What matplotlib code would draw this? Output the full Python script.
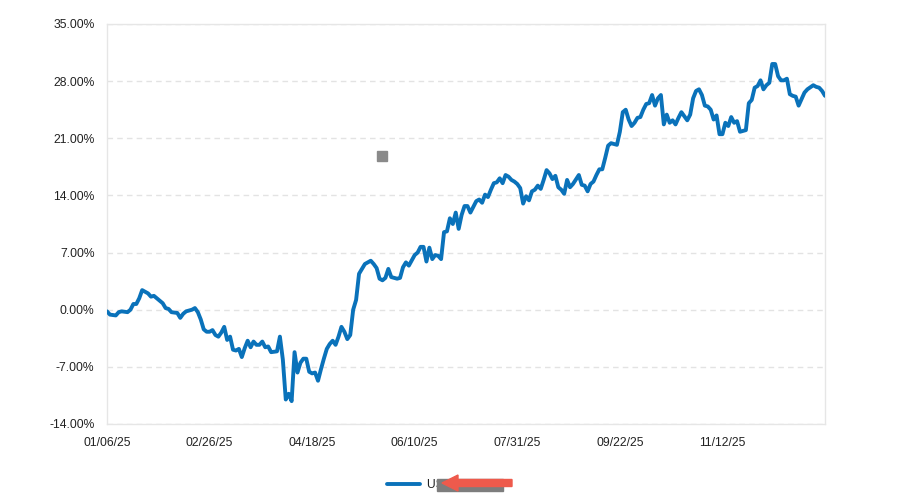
import matplotlib
matplotlib.use("Agg")
import matplotlib.pyplot as plt
from matplotlib.patches import Rectangle, FancyArrow

# ---- data (trading-day index, cumulative return %) ----
days = [0, 1, 3, 4, 5, 7, 8, 9, 10, 11, 12, 13, 14, 15, 16, 17, 19, 20, 21, 22,
        24, 25, 26, 27, 28, 29, 30, 31, 32, 33, 34, 35, 36, 37, 38, 39, 40, 41, 42, 43,
        44, 45, 46, 47, 48, 49, 50, 51, 52, 53, 54, 55, 56, 58, 59, 60, 61, 62, 63, 64,
        65, 66, 67, 68, 69, 70, 71, 72, 73, 74, 75, 76, 77, 78, 79, 80, 81, 82, 83, 84,
        85, 86, 87, 88, 89, 90, 91, 92, 93, 94, 95, 96, 97, 99, 100, 101, 102, 103, 105, 106,
        107, 108, 109, 110, 111, 112, 113, 114, 115, 116, 117, 118, 119, 120, 121, 122, 123, 124, 126, 127,
        128, 129, 130, 131, 132, 133, 134, 135, 136, 137, 138, 139, 140, 141, 142, 143, 144, 145, 146, 147,
        148, 149, 150, 151, 152, 153, 154, 155, 156, 157, 158, 159, 161, 162, 163, 164, 165, 166, 167, 168,
        169, 170, 171, 172, 174, 175, 176, 177, 178, 179, 180, 181, 182, 183, 184, 185, 186, 187, 188, 189,
        190, 191, 192, 193, 194, 195, 196, 197, 198, 199, 200, 201, 202, 203, 204, 205, 206, 207, 208, 209,
        210, 211, 212, 213, 214, 215, 216, 217, 218, 219, 220, 221, 222, 223, 224, 225, 226, 227, 228, 229,
        230, 231, 232, 233, 234, 235, 236, 238, 239, 241, 242, 243, 244, 245]
returns = [-0.2, -0.6, -0.7, -0.3, -0.2, -0.3, 0.0, 0.7, 0.7, 1.4, 2.4, 2.2, 2.0, 1.6, 1.7, 1.4, 0.8, 0.2, 0.1, -0.3,
           -0.4, -1.0, -0.5, -0.2, -0.1, 0.0, 0.2, -0.3, -1.2, -2.4, -2.7, -2.7, -2.5, -3.1, -3.3, -2.8, -2.1, -3.7, -3.3, -4.9,
           -5.0, -4.8, -5.8, -4.7, -3.8, -4.6, -3.9, -4.3, -4.3, -3.9, -4.6, -4.5, -5.2, -5.1, -3.3, -6.1, -11.0, -10.3, -11.2, -5.2,
           -7.7, -6.5, -6.0, -6.0, -7.6, -7.8, -7.7, -8.7, -7.3, -6.0, -4.8, -4.2, -3.8, -4.3, -3.3, -2.1, -2.7, -3.6, -3.1, 0.0,
           1.2, 4.4, 5.0, 5.6, 5.8, 6.0, 5.6, 5.1, 3.8, 3.6, 3.9, 5.0, 4.0, 3.8, 3.9, 5.2, 5.8, 5.4, 6.7, 7.0,
           7.7, 7.7, 5.9, 7.6, 6.2, 6.7, 6.6, 6.2, 9.5, 9.6, 11.2, 10.5, 11.9, 9.9, 11.6, 12.7, 12.7, 11.9, 13.3, 13.5,
           13.1, 14.1, 13.8, 14.7, 15.5, 15.6, 16.1, 15.5, 16.5, 16.3, 15.9, 15.7, 15.4, 14.9, 13.0, 13.9, 13.4, 14.5, 14.7, 15.2,
           14.8, 15.9, 17.1, 16.7, 16.0, 16.4, 15.0, 14.7, 14.2, 15.9, 15.0, 15.4, 16.5, 15.3, 15.2, 14.5, 15.4, 15.7, 16.5, 17.2,
           17.2, 18.6, 20.1, 20.4, 20.2, 21.8, 24.2, 24.5, 23.3, 22.5, 22.9, 23.5, 23.6, 24.5, 25.2, 25.3, 26.3, 25.0, 25.9, 26.3,
           22.7, 23.9, 22.9, 23.2, 22.7, 23.5, 24.2, 23.7, 23.2, 23.9, 25.9, 26.8, 27.0, 26.3, 25.0, 24.9, 24.5, 23.3, 23.8, 21.5,
           21.5, 22.9, 22.5, 23.6, 22.9, 23.1, 21.8, 21.9, 22.0, 25.3, 25.7, 27.2, 27.4, 28.1, 27.0, 27.5, 27.8, 30.1, 30.1, 28.6,
           28.1, 28.1, 28.3, 26.4, 26.2, 26.1, 25.0, 26.6, 27.0, 27.5, 27.3, 27.2, 26.8, 26.2]
series_label = "US Equity"

x_tick_pos = [0, 35, 70, 105, 140, 175, 210]
x_tick_labels = ["01/06/25", "02/26/25", "04/18/25", "06/10/25", "07/31/25", "09/22/25", "11/12/25"]
y_ticks = [-14, -7, 0, 7, 14, 21, 28, 35]

plt.rcParams['font.family'] = ['Liberation Sans', 'DejaVu Sans']

fig = plt.figure(figsize=(9.01, 4.99), dpi=100)
ax = fig.add_axes([107/901, 1 - 424/499, (825 - 107)/901, (424 - 24)/499])

line_color = "#0a72ba"
ax.plot(days, returns, color=line_color, lw=2.8, solid_joinstyle='round',
        solid_capstyle='round', label=series_label, zorder=3)

ax.set_xlim(0, 245)
ax.set_ylim(-14, 35)
ax.set_yticks(y_ticks)
ax.set_yticklabels([f"{v:.2f}%" for v in y_ticks])
ax.set_xticks(x_tick_pos)
ax.set_xticklabels(x_tick_labels)
ax.tick_params(axis='both', length=0, labelsize=8.7, colors="#222222")
ax.tick_params(axis='y', pad=9)
ax.tick_params(axis='x', pad=9)

ax.grid(axis='y', color="#e3e3e3", lw=1, linestyle=(0, (4, 3)))
ax.grid(axis='x', visible=False)
for s in ax.spines.values():
    s.set_color("#e6e6e6")
    s.set_linewidth(1)

leg = fig.legend(loc='center left', bbox_to_anchor=(376/901, 0.028), frameon=False,
                 fontsize=8.7, handlelength=2.7, handletextpad=0.6)
for t in leg.get_texts():
    t.set_color("#222222")

# overlay marks present in the reference image (redaction box, arrow, small square)
fig.patches.append(Rectangle((437/901, 1 - 491/499), 66/901, 12/499,
                             transform=fig.transFigure, color="#7d7d7d", zorder=10))
fig.patches.append(Rectangle((377/901, 1 - 161/499), 10/901, 10/499,
                             transform=fig.transFigure, color="#8a8a8a", zorder=10))
fig.patches.append(FancyArrow(512/901, 1 - 483/499, -70/901, 0,
                              width=7/499, head_width=16/499, head_length=16/901,
                              length_includes_head=True, transform=fig.transFigure,
                              color="#ee5a4c", zorder=11))

fig.savefig("out.png", dpi=100)
